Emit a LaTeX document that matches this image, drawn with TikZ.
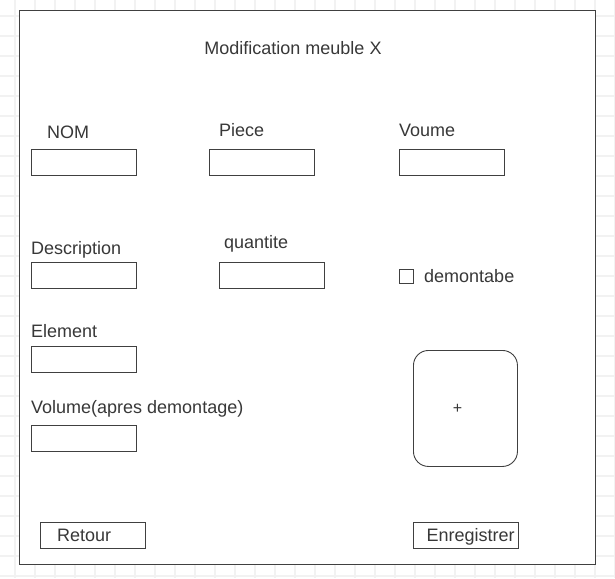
\documentclass[tikz,border=0pt]{standalone}
\usepackage{fontspec}
\setmainfont{Liberation Sans}
\begin{document}
\begin{tikzpicture}[x=1pt,y=-1pt,
  every node/.style={font=\fontsize{18}{21}\selectfont, text=black!78, inner sep=0pt},
  frame/.style={draw=black!75, line width=1pt},
  field/.style={draw=black!75, line width=0.9pt, minimum width=105pt, minimum height=26pt, anchor=north west},
  lbl/.style={anchor=base west},
  btn/.style={draw=black!75, line width=0.9pt, minimum width=105pt, minimum height=26pt, anchor=north west},
  gridline/.style={draw=black!5, line width=1.6pt}]
\useasboundingbox (0,0) rectangle (615,578);
% background grid
\foreach \gx in {15,35,...,615} \draw[gridline] (\gx,0) -- (\gx,578);
\foreach \gy in {16,36,...,578} \draw[gridline] (0,\gy) -- (615,\gy);
% main frame
\draw[frame, fill=white] (19.5,10.5) rectangle (595.5,564.5);
\node[anchor=base] (title) at (293,55) {Modification meuble X};
% row 1
\node[lbl] (lnom) at (47,138) {NOM};
\node[field] (fnom) at (31,149) {};
\node[lbl] (lpiece) at (219,136) {Piece};
\node[field] (fpiece) at (209,149) {};
\node[lbl] (lvoume) at (399,136.5) {Voume};
\node[field] (fvoume) at (399,149) {};
% row 2
\node[lbl] (ldesc) at (31,254) {Description};
\node[field] (fdesc) at (31,262) {};
\node[lbl] (lqte) at (224,248.5) {quantite};
\node[field] (fqte) at (219,262) {};
\node[draw=black!75, line width=0.9pt, minimum width=14pt, minimum height=14pt, anchor=north west] (chk) at (399,269) {};
\node[lbl] (ldem) at (424,282.5) {demontabe};
% row 3
\node[lbl] (lelem) at (31,337.5) {Element};
\node[field] (felem) at (31,346) {};
\node[lbl] (lvol) at (31,413.5) {Volume(apres demontage)};
\node[field] (fvol) at (31,425) {};
% image placeholder
\node[draw=black!75, line width=0.9pt, rounded corners=15pt, minimum width=104pt, minimum height=116pt, anchor=north west] (img) at (413,350) {};
\node[font=\fontsize{16}{17}\selectfont] (plus) at ([xshift=-8pt]img.center) {+};
% buttons
\node[btn] (bret) at (40,522) {};
\node[lbl] (tret) at (57,541.5) {Retour};
\node[btn] (benr) at (413,522) {};
\node[lbl] (tenr) at (426.5,541.5) {Enregistrer};
\end{tikzpicture}
\end{document}
